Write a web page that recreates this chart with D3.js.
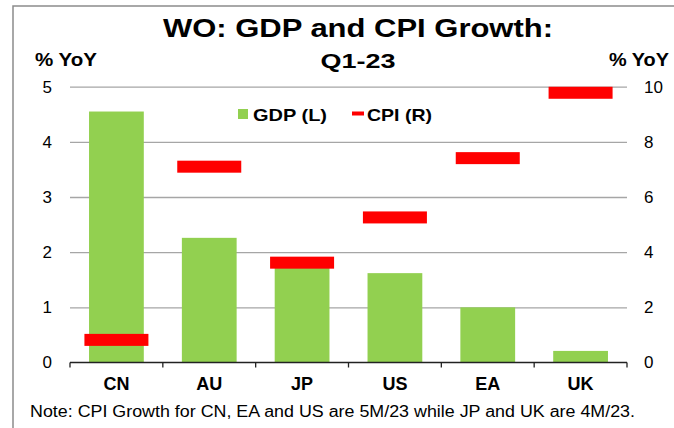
<!DOCTYPE html>
<html>
<head>
<meta charset="utf-8">
<script src="https://cdn.jsdelivr.net/npm/d3@7/dist/d3.min.js"></script>
<style>
  html, body { margin: 0; padding: 0; background: #fff; }
  svg { display: block; }
  text { font-family: "Liberation Sans", Arial, Helvetica, sans-serif; fill: #000; }
</style>
</head>
<body>
<svg id="chart" width="674" height="428"></svg>
<script>
const categories = ["CN", "AU", "JP", "US", "EA", "UK"];
const gdp = [4.55, 2.26, 1.85, 1.62, 1.0, 0.21];   // left axis, % YoY
const cpi = [0.82, 7.1, 3.62, 5.26, 7.41, 9.78];   // right axis, % YoY
const leftTicks = [0, 1, 2, 3, 4, 5];
const rightTicks = [0, 2, 4, 6, 8, 10];
const titleLines = ["WO: GDP and CPI Growth:", "Q1-23"];
const axisTitle = "% YoY";
const legendLabels = ["GDP (L)", "CPI (R)"];
const note = "Note: CPI Growth for CN, EA and US are 5M/23 while JP and UK are 4M/23.";

const W = 674, H = 428;
const plot = { left: 70, right: 627, top: 86.7, bottom: 362.5 };
const green = "#92d050", red = "#ff0000", gridCol = "#a6a6a6";

const svg = d3.select("#chart");

// frame
svg.append("path")
  .attr("d", `M13,${H} L13,6 L${W},6`)
  .attr("fill", "none").attr("stroke", "#8c8c8c").attr("stroke-width", 1.5);

const x = d3.scaleBand().domain(categories)
  .range([plot.left, plot.right]).paddingInner(0.41).paddingOuter(0.205);
const yL = d3.scaleLinear().domain([0, 5]).range([plot.bottom, plot.top]);
const yR = d3.scaleLinear().domain([0, 10]).range([plot.bottom, plot.top]);

// gridlines
svg.append("g")
  .attr("transform", `translate(${plot.left},0)`)
  .call(d3.axisLeft(yL).tickValues(leftTicks.filter(d => d > 0))
    .tickSize(-(plot.right - plot.left)).tickFormat(""))
  .call(g => g.select(".domain").remove())
  .call(g => g.selectAll("line").attr("stroke", gridCol).attr("stroke-width", 1.3));

// left tick labels
svg.append("g")
  .attr("transform", `translate(${plot.left},0)`)
  .call(d3.axisLeft(yL).tickValues(leftTicks).tickFormat(d3.format("d")).tickSize(0).tickPadding(18))
  .call(g => g.select(".domain").remove())
  .call(g => g.selectAll("text").attr("font-size", 17)
    .style("font-family", '"Liberation Sans", Arial, sans-serif').attr("fill", "#000"));

// right tick labels
svg.append("g")
  .attr("transform", `translate(${plot.right},0)`)
  .call(d3.axisRight(yR).tickValues(rightTicks).tickFormat(d3.format("d")).tickSize(0).tickPadding(17))
  .call(g => g.select(".domain").remove())
  .call(g => g.selectAll("text").attr("font-size", 17)
    .style("font-family", '"Liberation Sans", Arial, sans-serif').attr("fill", "#000"));

// bars
svg.append("g").selectAll("rect")
  .data(categories)
  .join("rect")
  .attr("x", d => x(d))
  .attr("width", x.bandwidth())
  .attr("y", (d, i) => yL(gdp[i]))
  .attr("height", (d, i) => yL(0) - yL(gdp[i]))
  .attr("fill", green);

// x axis line and boundary ticks
const baseY = yL(0);
svg.append("line")
  .attr("x1", plot.left).attr("x2", plot.right)
  .attr("y1", baseY).attr("y2", baseY)
  .attr("stroke", "#222").attr("stroke-width", 1.3);
svg.append("g").selectAll("line")
  .data(d3.range(categories.length + 1))
  .join("line")
  .attr("x1", i => plot.left + i * x.step())
  .attr("x2", i => plot.left + i * x.step())
  .attr("y1", baseY).attr("y2", baseY + 5)
  .attr("stroke", "#222").attr("stroke-width", 1.3);

// category labels
svg.append("g")
  .attr("transform", `translate(0,${baseY})`)
  .call(d3.axisBottom(x).tickSize(0).tickPadding(14.5))
  .call(g => g.select(".domain").remove())
  .call(g => g.selectAll("text").attr("font-size", 18).attr("font-weight", "bold")
    .style("font-family", '"Liberation Sans", Arial, sans-serif').attr("fill", "#000"));

// CPI markers (dash)
const mW = 64, mH = 12;
svg.append("g").selectAll("rect")
  .data(categories)
  .join("rect")
  .attr("x", d => x(d) + x.bandwidth() / 2 - mW / 2)
  .attr("y", (d, i) => yR(cpi[i]) - mH / 2)
  .attr("width", mW).attr("height", mH)
  .attr("fill", red);

// titles
function txt(str, xx, yy, size, opts = {}) {
  const t = svg.append("text")
    .attr("x", xx).attr("y", yy)
    .attr("font-size", size)
    .attr("font-weight", opts.bold ? "bold" : "normal")
    .attr("text-anchor", opts.anchor || "start")
    .text(str);
  if (opts.len) t.attr("textLength", opts.len).attr("lengthAdjust", "spacingAndGlyphs");
  return t;
}
txt(titleLines[0], 358, 37, 25.5, { bold: true, anchor: "middle", len: 390 });
txt(titleLines[1], 358, 68.3, 21, { bold: true, anchor: "middle", len: 75 });
txt(axisTitle, 35, 66, 17.5, { bold: true, len: 62 });
txt(axisTitle, 609, 65.5, 17.5, { bold: true, len: 60 });

// legend
svg.append("rect").attr("x", 238).attr("y", 109).attr("width", 10).attr("height", 10).attr("fill", green);
txt(legendLabels[0], 253, 120.7, 17, { bold: true, len: 74 });
svg.append("rect").attr("x", 352).attr("y", 111.5).attr("width", 12).attr("height", 4).attr("fill", red);
txt(legendLabels[1], 367, 120.7, 17, { bold: true, len: 65 });

// note
txt(note, 30, 417.3, 15.8, { len: 605 });
</script>
</body>
</html>
